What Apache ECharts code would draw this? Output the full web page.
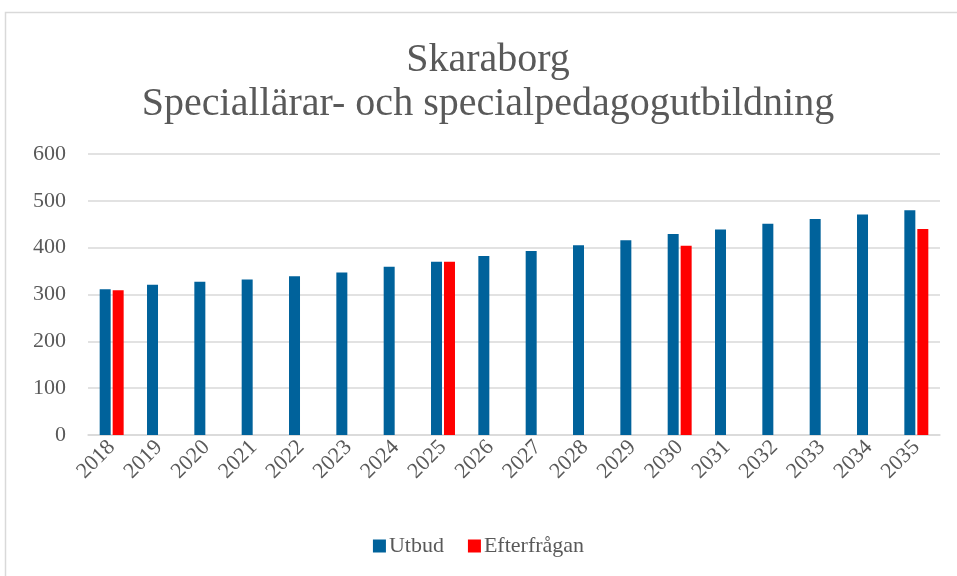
<!DOCTYPE html>
<html>
<head>
<meta charset="utf-8">
<script src="https://cdn.jsdelivr.net/npm/echarts@6/dist/echarts.min.js"></script>
<style>
  html, body { margin: 0; padding: 0; background: #fff; }
  #chart { width: 957px; height: 576px; }
</style>
</head>
<body>
<div id="chart"></div>
<script>
// Data
var years = ['2018', '2019', '2020', '2021', '2022', '2023', '2024', '2025', '2026',
  '2027', '2028', '2029', '2030', '2031', '2032', '2033', '2034', '2035']
var utbud = [311, 321, 327, 332, 339, 347, 359, 370, 382, 393, 405, 416, 429, 439, 451, 461, 471, 480]
var efterfragan = [309, null, null, null, null, null, null, 370, null, null, null, null, 404, null, null, null, null, 440]
var yTicks = [0, 100, 200, 300, 400, 500, 600]

var font = 'Liberation Serif'
var grey = '#595959'

var chart = echarts.init(document.getElementById('chart'))
var option = {
  backgroundColor: '#fff',
  graphic: [{
    type: 'rect',
    shape: { x: 5.5, y: 12.5, width: 960, height: 580 },
    style: { fill: 'none', stroke: '#d9d9d9', lineWidth: 1.5 },
    silent: true
  }],
  title: {
    text: 'Skaraborg\nSpeciallärar- och specialpedagogutbildning',
    left: 483,
    textAlign: 'center',
    top: 33,
    textStyle: {
      fontFamily: font,
      fontWeight: 'normal',
      fontSize: 40,
      lineHeight: 44,
      color: grey
    }
  },
  legend: {
    bottom: 14,
    left: 'center',
    itemWidth: 13,
    itemHeight: 13,
    itemGap: 24,
    icon: 'rect',
    textStyle: { fontFamily: font, fontSize: 22, color: grey, padding: [0, 0, 0, -2] },
    data: ['Utbud', 'Efterfrågan']
  },
  grid: { left: 88, right: 17, top: 154, bottom: 141, containLabel: false },
  xAxis: {
    type: 'category',
    data: years,
    axisLine: { lineStyle: { color: '#d9d9d9', width: 1.5 } },
    axisTick: { show: false },
    axisLabel: {
      rotate: 45,
      interval: 0,
      margin: 9,
      fontFamily: font,
      fontSize: 22,
      color: grey
    }
  },
  yAxis: {
    type: 'value',
    min: yTicks[0],
    max: yTicks[yTicks.length - 1],
    interval: 100,
    axisLine: { show: false },
    axisTick: { show: false },
    splitLine: { lineStyle: { color: '#d9d9d9', width: 1.5 } },
    axisLabel: {
      fontFamily: font,
      fontSize: 22,
      color: grey,
      margin: 22
    }
  },
  series: [
    {
      name: 'Utbud',
      type: 'bar',
      data: utbud,
      barWidth: 11,
      barGap: '18%',
      itemStyle: { color: '#00629b' }
    },
    {
      name: 'Efterfrågan',
      type: 'bar',
      data: efterfragan,
      barWidth: 11,
      itemStyle: { color: '#ff0000' }
    }
  ]
}
chart.setOption(option)
</script>
</body>
</html>
